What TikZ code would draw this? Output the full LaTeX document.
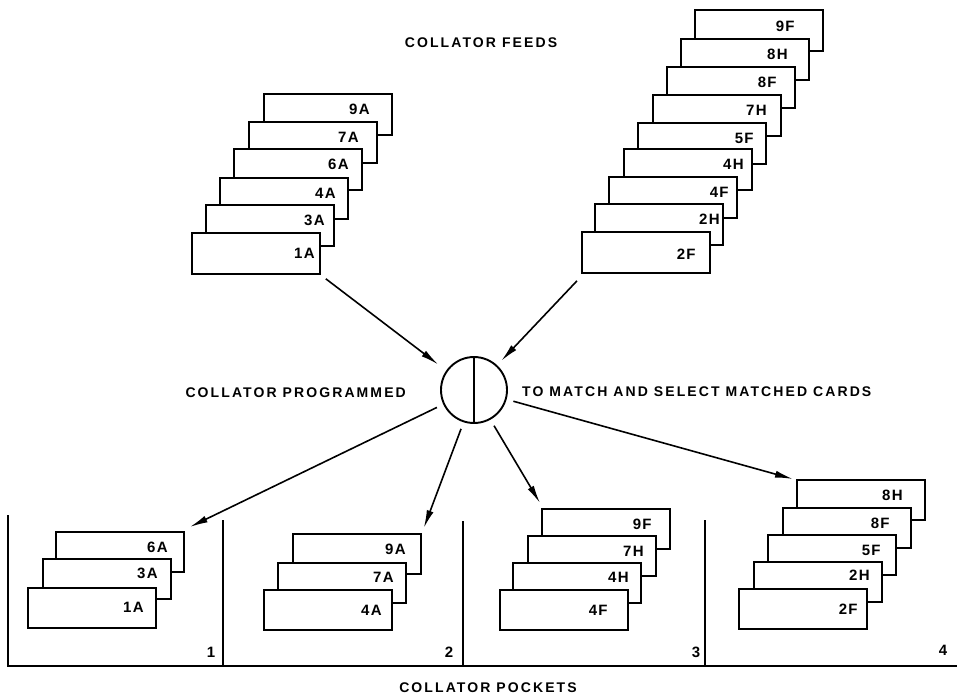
\documentclass[tikz,border=0pt]{standalone}
\usepackage{fontspec}
\setmainfont{Liberation Sans}
\usetikzlibrary{arrows.meta}
\begin{document}
\begin{tikzpicture}[x=1pt,y=-1pt,
  card/.style={draw,fill=white,line width=1.8pt,rectangle,inner sep=0pt,
    minimum width=128pt,minimum height=41pt,anchor=north west},
  pcard/.style={card,minimum height=40pt},
  lab/.style={inner sep=0pt,anchor=east,
    font=\fontsize{15}{16}\selectfont\bfseries\addfontfeature{LetterSpace=8}},
  num/.style={inner sep=0pt,
    font=\fontsize{15}{16}\selectfont\bfseries},
  ttl/.style={inner sep=0pt,
    font=\fontsize{14}{15}\selectfont\bfseries\addfontfeature{LetterSpace=15}},
  arr/.style={line width=1.6pt,-{Latex[length=18pt,width=7pt]}},
  wall/.style={line width=1.4pt}]
\useasboundingbox (0,0) rectangle (957,697);

% titles
\node[ttl] (feeds) at (481,43) {COLLATOR FEEDS};
\node[ttl,anchor=east] (prog) at (406,393) {COLLATOR PROGRAMMED};
\node[ttl,anchor=west] (match) at (522,392) {TO MATCH AND SELECT MATCHED CARDS};
\node[ttl] (pockets) at (488,688) {COLLATOR POCKETS};

% left feed stack
\foreach \x/\y/\t/\o/\v [count=\i] in {263/93/9A/23/16, 248/121/7A/19/16,
    233/148/6A/14/16, 219/177/4A/13/16, 205/204/3A/10/16, 191/232/1A/6/21}{
  \node[card] (ls\i) at (\x,\y) {};
  \node[lab] (lsl\i) at ([shift={(-\o,\v)}]ls\i.north east) {\t};
}

% right feed stack
\foreach \x/\y/\t/\o/\v [count=\i] in {694/9/9F/29/17, 680/38/8H/22/16,
    666/66/8F/19/16, 652/94/7H/15/16, 637/122/5F/13/16, 623/148/4H/9/16,
    608/176/4F/9/16, 594/203/2H/4/16, 581/231/2F/15/23}{
  \node[card] (rs\i) at (\x,\y) {};
  \node[lab] (rsl\i) at ([shift={(-\o,\v)}]rs\i.north east) {\t};
}

% collator
\node[draw,circle,line width=1.9pt,minimum size=66pt,inner sep=0pt] (col) at (474,390) {};
\draw[line width=1.9pt] (col.north) -- (col.south);

% pockets
\draw[wall] (8,515) -- (8,666) -- (957,666);
\draw[wall] (223,520) -- (223,666);
\draw[wall] (463,521) -- (463,666);
\draw[wall] (705,520) -- (705,666);
\node[num] (n1) at (211,652) {1};
\node[num] (n2) at (449,652) {2};
\node[num] (n3) at (696,652) {3};
\node[num] (n4) at (943,650) {4};

\foreach \x/\y/\t/\o/\v [count=\i] in {55/531/6A/17/16, 42/558/3A/14/15, 27/587/1A/13/20}{
  \node[pcard] (pa\i) at (\x,\y) {};
  \node[lab] (pal\i) at ([shift={(-\o,\v)}]pa\i.north east) {\t};
}
\foreach \x/\y/\t/\o/\v [count=\i] in {292/533/9A/16/16, 277/562/7A/13/15, 263/589/4A/11/21}{
  \node[pcard] (pb\i) at (\x,\y) {};
  \node[lab] (pbl\i) at ([shift={(-\o,\v)}]pb\i.north east) {\t};
}
\foreach \x/\y/\t/\o/\v [count=\i] in {541/508/9F/19/16, 527/535/7H/13/16,
    512/562/4H/13/15, 499/589/4F/21/21}{
  \node[pcard] (pc\i) at (\x,\y) {};
  \node[lab] (pcl\i) at ([shift={(-\o,\v)}]pc\i.north east) {\t};
}
\foreach \x/\y/\t/\o/\v [count=\i] in {796/479/8H/23/16, 782/507/8F/22/16,
    767/534/5F/16/16, 753/561/2H/13/14, 738/588/2F/10/21}{
  \node[pcard] (pd\i) at (\x,\y) {};
  \node[lab] (pdl\i) at ([shift={(-\o,\v)}]pd\i.north east) {\t};
}

% connectors
\draw[arr,shorten >=10pt] ([shift={(5,4)}]ls6.south east) -- (col.145);
\draw[arr,shorten >=6pt] ([shift={(-4,7)}]rs9.south west) -- (col.47);
\draw[arr,shorten <=7pt] (col.205) -- ([shift={(5,-4)}]pa1.north east);
\draw[arr,shorten <=7pt] (col.252.5) -- ([shift={(2,-5)}]pb1.north east);
\draw[arr,shorten <=7pt] (col.299) -- ([shift={(-1,-5)}]pc1.north west);
\draw[arr,shorten <=7pt] (col.344) -- ([shift={(-3,0)}]pd1.north west);
\end{tikzpicture}
\end{document}
